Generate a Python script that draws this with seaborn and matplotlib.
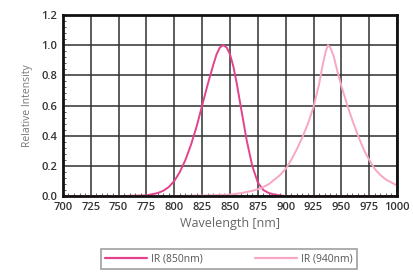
import matplotlib
matplotlib.use("Agg")
import matplotlib.pyplot as plt
import seaborn as sns
import pandas as pd
from matplotlib.ticker import MultipleLocator

# spectrum values
wl_850 = [700, 750, 775, 785, 790, 795, 800, 805, 810, 815, 820, 825, 830, 835, 838, 841, 844,
          847, 850, 853, 856, 860, 865, 870, 875, 880, 885, 890, 900, 950, 1000]
ir_850 = [0.0, 0.0, 0.005, 0.02, 0.035, 0.06, 0.1, 0.16, 0.24, 0.34, 0.46, 0.6, 0.74, 0.87, 0.94, 0.985, 1.0,
          0.985, 0.94, 0.86, 0.75, 0.58, 0.37, 0.2, 0.09, 0.04, 0.02, 0.01, 0.0, 0.0, 0.0]

wl_940 = [700, 800, 830, 850, 860, 870, 875, 880, 885, 890, 895, 900, 905, 910, 915, 920, 925,
          930, 933, 936, 938, 940, 943, 946, 950, 955, 960, 965, 970, 975, 980, 985, 990, 995, 1000]
ir_940 = [0.0, 0.0, 0.005, 0.01, 0.02, 0.035, 0.045, 0.06, 0.08, 0.11, 0.14, 0.18, 0.24, 0.31, 0.39, 0.48, 0.59,
          0.74, 0.86, 0.96, 1.0, 0.985, 0.93, 0.84, 0.73, 0.61, 0.5, 0.4, 0.31, 0.24, 0.18, 0.14, 0.11, 0.09, 0.07]

labels = ["IR (850nm)", "IR (940nm)"]
colors = ["#e2438c", "#f7a6c6"]

df = pd.concat([
    pd.DataFrame({"wl": wl_850, "val": ir_850, "series": labels[0]}),
    pd.DataFrame({"wl": wl_940, "val": ir_940, "series": labels[1]}),
])

sns.set_style("white")
plt.rcParams["font.family"] = ["Open Sans", "DejaVu Sans"]

fig = plt.figure(figsize=(4.14, 2.72), dpi=100)
ax = fig.add_axes([0.152, 0.279, 0.807, 0.666])

sns.lineplot(data=df, x="wl", y="val", hue="series", palette=colors,
             linewidth=1.4, ax=ax, legend=False)

ax.set_xlim(700, 1000)
ax.set_ylim(0, 1.2)
ax.xaxis.set_major_locator(MultipleLocator(25))
ax.yaxis.set_major_locator(MultipleLocator(0.2))
ax.xaxis.set_minor_locator(MultipleLocator(5))
ax.yaxis.set_minor_locator(MultipleLocator(0.04))
ax.set_yticklabels([f"{v:.1f}" for v in ax.get_yticks()])
ax.grid(True, which="major", color="#333333", linewidth=1.4, alpha=0.8)
ax.tick_params(which="major", length=0, labelsize=8, colors="#333333", pad=4)
for lbl in ax.get_xticklabels() + ax.get_yticklabels():
    lbl.set_fontweight("semibold")
ax.tick_params(which="minor", direction="in", length=2, width=0.6, color="#444444",
               bottom=True, left=True)
for s in ax.spines.values():
    s.set_color("#111111")
    s.set_linewidth(2)

ax.set_xlabel("Wavelength [nm]", fontsize=9, color="#666666", labelpad=3)
ax.set_ylabel("Relative Intensity", fontsize=7.5, color="#777777", labelpad=6)

handles = [plt.Line2D([], [], color=c, linewidth=1.6) for c in colors]
leg = fig.legend(handles, labels, loc="center", bbox_to_anchor=(0.553, 0.048), ncol=2,
                 fontsize=7.5, frameon=True, fancybox=False, edgecolor="#888888",
                 handlelength=4, handletextpad=0.4, columnspacing=5, borderpad=0.4)
leg.get_frame().set_linewidth(1.2)
for t in leg.get_texts():
    t.set_color("#555555")

fig.savefig("out.png", dpi=100)
